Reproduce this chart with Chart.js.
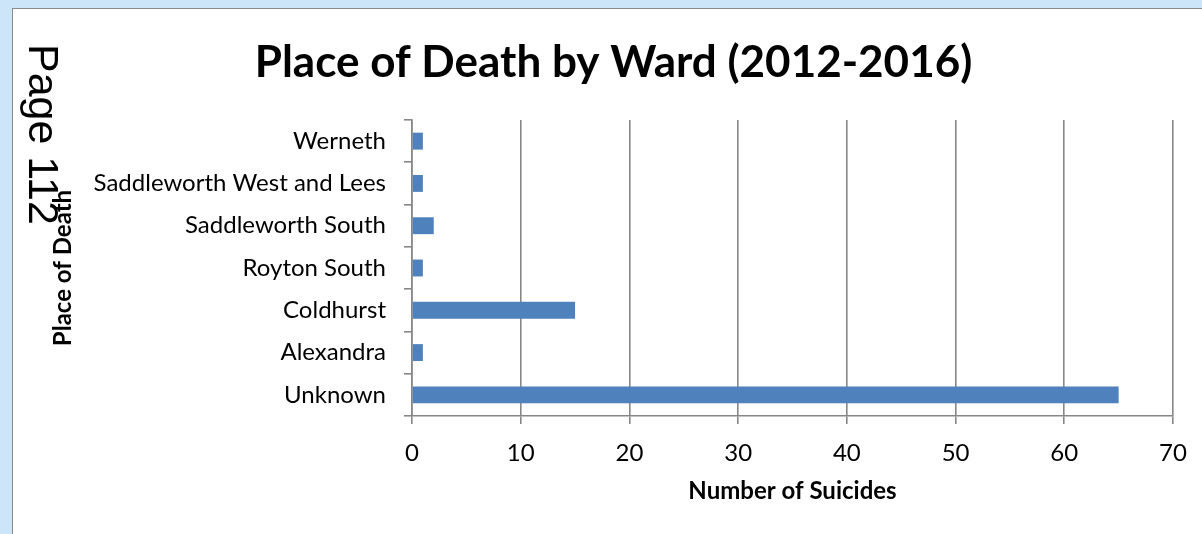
<!DOCTYPE html>
<html>
<head>
<meta charset="utf-8">
<script src="https://cdn.jsdelivr.net/npm/chart.js@4/dist/chart.umd.min.js"></script>
<style>
  html, body { margin: 0; padding: 0; }
  body { width: 1202px; height: 534px; background: #cde5f9; position: relative; overflow: hidden; }
  #sheet { position: absolute; left: 12px; top: 8px; right: 0; bottom: 0; background: #fff;
           border-left: 1.5px solid #8a8a8a; border-top: 1.5px solid #8a8a8a; }
  #chart-wrap { position: absolute; left: 0; top: 0; width: 1202px; height: 534px; }
  #page-no { position: absolute; left: 65px; top: 44px; font-family: "Liberation Sans", Arial, sans-serif;
             font-size: 43px; line-height: 43px; white-space: nowrap; color: #000;
             transform: rotate(90deg); transform-origin: 0 0; z-index: 2; }
</style>
</head>
<body>
<div id="sheet"></div>
<div id="chart-wrap"><canvas id="wardChart" width="1202" height="534"></canvas></div>
<div id="page-no">Page 112</div>
<script>
// Wards, top to bottom as listed
const wards = ['Werneth', 'Saddleworth West and Lees', 'Saddleworth South', 'Royton South', 'Coldhurst', 'Alexandra', 'Unknown'];
const suicides = [1, 1, 2, 1, 15, 1, 65];
const xTicks = [0, 10, 20, 30, 40, 50, 60, 70];

const gridGrey = '#878787';
const family = 'Lato, "Open Sans", sans-serif';
const labelFont = { family: family, size: 24 };
const axisTitleFont = { family: family, size: 24, weight: 'bold', lineHeight: 1.2 };

const ctx = document.getElementById('wardChart').getContext('2d');
new Chart(ctx, {
    type: 'bar',
    data: {
        labels: wards,
        datasets: [{
            label: 'Number of Suicides',
            data: suicides,
            backgroundColor: '#4f81bd',
            categoryPercentage: 1.0,
            barPercentage: 0.4
        }]
    },
    options: {
        indexAxis: 'y',
        responsive: false,
        animation: false,
        layout: { padding: { left: 54, right: 29, top: 0, bottom: 0 } },
        plugins: {
            legend: { display: false },
            tooltip: { enabled: false },
            title: {
                display: true,
                text: 'Place of Death by Ward (2012-2016)',
                color: '#000',
                font: { family: family, size: 44, weight: 'bold', lineHeight: 1.2 },
                padding: { top: 36, bottom: 31.2 }
            }
        },
        scales: {
            x: {
                min: 0,
                max: 70,
                afterBuildTicks: (scale) => { scale.ticks = xTicks.map(v => ({ value: v })); },
                afterFit: (scale) => { scale.height = 118; },
                grid: { color: gridGrey, lineWidth: 1.6, tickLength: 8, drawTicks: true },
                border: { color: gridGrey, width: 1.6 },
                ticks: { color: '#000', font: labelFont, padding: 15, maxRotation: 0 },
                title: {
                    display: true,
                    text: 'Number of Suicides',
                    color: '#000',
                    font: axisTitleFont,
                    padding: { top: 0, bottom: 28.6 }
                }
            },
            y: {
                // y scale box starts at the 54px left padding; plot edge lands at x = 412
                afterFit: (scale) => { scale.width = 358; },
                grid: { offset: true, drawOnChartArea: false, drawTicks: true, tickLength: 8, color: gridGrey, lineWidth: 1.6 },
                border: { color: gridGrey, width: 1.6 },
                ticks: { color: '#000', font: labelFont, padding: 18 },
                title: {
                    display: true,
                    text: 'Place of Death',
                    color: '#000',
                    font: axisTitleFont,
                    padding: { top: -5.4, bottom: 0 }
                }
            }
        }
    }
});
</script>
</body>
</html>
